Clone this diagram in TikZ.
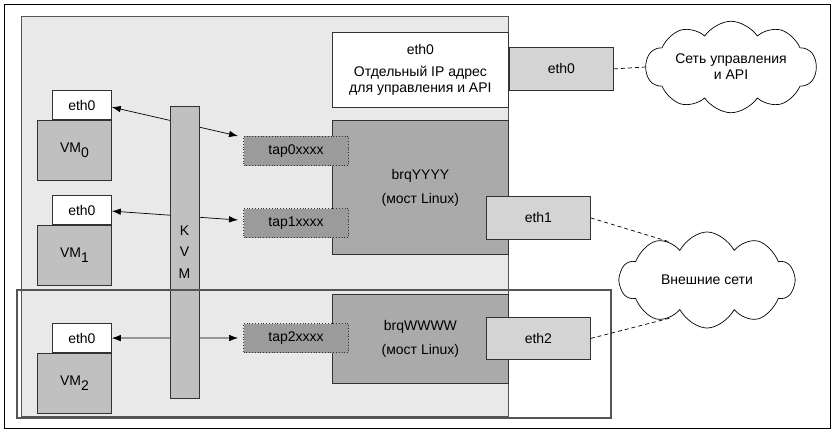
\documentclass[tikz,border=0pt]{standalone}
\usepackage{fontspec}
\setmainfont{Liberation Sans}
\setsansfont{Liberation Sans}
\usetikzlibrary{positioning,arrows.meta,shapes.symbols}
\definecolor{edgeDark}{RGB}{50,50,50}
\definecolor{frameGray}{RGB}{85,85,85}
\definecolor{hostFill}{RGB}{233,233,233}
\definecolor{vmFill}{RGB}{192,192,192}
\definecolor{ethFill}{RGB}{212,212,212}
\definecolor{brFill}{RGB}{170,170,170}
\definecolor{tapFill}{RGB}{155,155,155}

\begin{document}
\begin{tikzpicture}[
  x=1pt,y=-1pt,
  font=\fontsize{14}{16}\selectfont,
  box/.style={draw=edgeDark,line width=0.8pt,inner sep=0pt,align=center,
              anchor=north west},
  vmbox/.style={box,fill=vmFill,minimum width=74pt,minimum height=60pt},
  vmeth/.style={box,fill=white,minimum width=59pt,minimum height=29pt},
  nic/.style={box,fill=ethFill,minimum width=104pt,minimum height=43pt},
  bridge/.style={box,fill=brFill,minimum width=176pt},
  tapbox/.style={box,fill=tapFill,dotted,line width=1pt,
                 minimum width=105pt,minimum height=29pt},
  net/.style={draw=black,cloud,cloud puffs=10,cloud puff arc=100,
              line width=0.7pt,fill=white,align=center,inner sep=0pt,
              transform shape},
  netlabel/.style={inner sep=0pt,align=center},
  link/.style={{Latex[length=9pt,width=6.5pt]}-{Latex[length=9pt,width=6.5pt]},
               line width=0.7pt},
  wire/.style={dash pattern=on 4pt off 3pt,line width=0.7pt}
]
\useasboundingbox (0,0) rectangle (835,433);

% ==========  Frames  ==========
\node[draw=black,line width=1.2pt,minimum width=826pt,minimum height=424pt,
      anchor=north west,inner sep=0pt] (outer) at (4,4) {};
\node[box,fill=hostFill,draw=frameGray,minimum width=487pt,minimum height=400pt]
      (host) at (21,16) {};

% ==========  Management interface (top)  ==========
\node[box,fill=white,minimum width=176pt,minimum height=75pt] (mgmt) at (332,32)
  {eth0\\[6pt]Отдельный IP адрес\\для управления и API};
\node[nic] (mgmtEth) at (509,47) {eth0};
% cloud stretched vertically, label set on top unscaled
\node[net,minimum width=170pt,aspect=2.8,yscale=1.2] (mgmtNet) at (731,67)
  {\phantom{Сеть управления}\\\phantom{и API}};
\node[netlabel] (mgmtNetText) at (mgmtNet.center) {Сеть управления\\и API};
\draw[wire] (mgmtEth.east) -- (mgmtNet.west);

% ==========  Bridges  ==========
\node[bridge,minimum height=134pt] (brY) at (332,120)
  {brqYYYY\\[8pt](мост Linux)};
\node[nic] (eth1) at (486,196) {eth1};

\node[bridge,minimum height=89pt] (brW) at (332,294)
  {brqWWWW\\[8pt](мост Linux)};
\node[nic,minimum height=42pt] (eth2) at (486,317) {eth2};

% tap devices sit over the left edge of the bridges
\node[tapbox] (tap0) at (243,136) {tap0xxxx};
\node[tapbox] (tap1) at (243,208) {tap1xxxx};
\node[tapbox] (tap2) at (243,323) {tap2xxxx};

% ==========  Virtual machines  ==========
\node[vmbox] (vm0) at (37,120) {VM\raisebox{-5pt}{0}};
\node[vmeth,above=0pt of vm0.north east,anchor=south east] (vm0eth) {eth0};

\node[vmbox] (vm1) at (37,225) {VM\raisebox{-5pt}{1}};
\node[vmeth,above=0pt of vm1.north east,anchor=south east] (vm1eth) {eth0};

\node[vmbox] (vm2) at (37,353) {VM\raisebox{-5pt}{2}};
\node[vmeth,above=0pt of vm2.north east,anchor=south east] (vm2eth) {eth0};

% links VM <-> tap (the KVM bar is drawn over them)
\draw[link] ([yshift=-2pt]vm0eth.east) -- ([xshift=-5pt]tap0.north west);
\draw[link] ([yshift=-1pt]vm1eth.east) -- ([xshift=-5pt,yshift=3pt]tap1.west);
\draw[link] (vm2eth.east) -- ([xshift=-5pt]tap2.west);

\node[box,fill=vmFill,minimum width=29pt,minimum height=292pt] (kvm) at (170,106)
  {};
\node[inner sep=0pt,align=center] (kvmText) at (184.5,252)
  {K\\[5pt]V\\[6pt]M};

% ==========  Lower host frame  ==========
\node[box,draw=frameGray,line width=1.6pt,minimum width=594pt,minimum height=128pt]
      (lower) at (16,289) {};

% ==========  External networks  ==========
\node[net,minimum width=174pt,aspect=2.6,yscale=1.45] (extNet) at (707,280)
  {\phantom{Внешние сети}};
\node[netlabel] (extNetText) at (extNet.center) {Внешние сети};
\draw[wire] (eth1.east) -- (extNet.145);
\draw[wire] (eth2.east) -- (extNet.215);

\end{tikzpicture}
\end{document}
